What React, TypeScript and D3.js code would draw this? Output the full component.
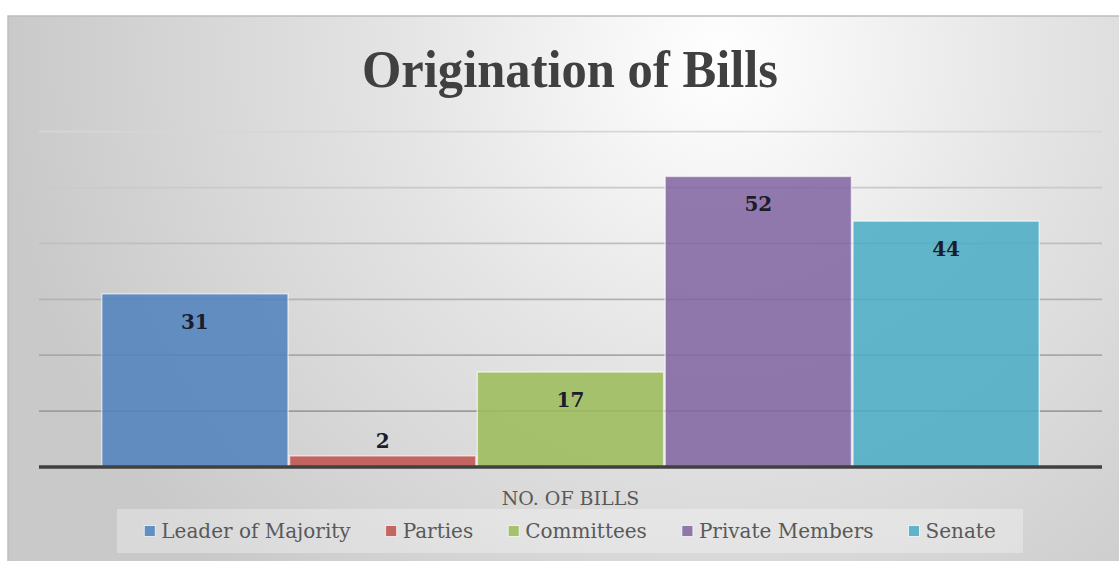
import React, { useEffect, useRef } from "react";
import * as d3 from "d3";

const categories: string[] = ["Leader of Majority", "Parties", "Committees", "Private Members", "Senate"];
const values: number[] = [31, 2, 17, 52, 44];
const colors: string[] = ["#4F81BD", "#C0504D", "#9BBB59", "#8064A2", "#4BACC6"];
const yTicks: number[] = [0, 10, 20, 30, 40, 50, 60];
const title = "Origination of Bills";
const axisTitle = "NO. OF BILLS";

const W = 1119;
const H = 561;

export default function App() {
  const ref = useRef<SVGSVGElement | null>(null);

  useEffect(() => {
    const svg = d3.select(ref.current);
    svg.selectAll("*").remove();

    const frame = { x: 8, y: 16, w: W - 8, h: H - 16 };
    const plot = { left: 39, right: 1102, top: 131.7, bottom: 467 };

    const defs = svg.append("defs");
    const rg = defs
      .append("radialGradient")
      .attr("id", "bg")
      .attr("gradientUnits", "userSpaceOnUse")
      .attr("cx", 720)
      .attr("cy", 60)
      .attr("r", 720)
      .attr("fx", 720)
      .attr("fy", 60);
    rg.append("stop").attr("offset", "0%").attr("stop-color", "#ffffff");
    rg.append("stop").attr("offset", "45%").attr("stop-color", "#e4e4e4");
    rg.append("stop").attr("offset", "100%").attr("stop-color", "#c9c9c9");

    svg
      .append("rect")
      .attr("x", frame.x)
      .attr("y", frame.y)
      .attr("width", frame.w + 4)
      .attr("height", frame.h + 4)
      .attr("fill", "url(#bg)")
      .attr("stroke", "#bdbdbd")
      .attr("stroke-width", 1.5);

    const x = d3
      .scaleBand<string>()
      .domain(categories)
      .range([plot.left, plot.right])
      .paddingInner(0)
      .paddingOuter(0.33);

    const y = d3.scaleLinear().domain([0, 60]).range([plot.bottom, plot.top]);

    const gridColor = d3.scaleLinear<string>().domain([10, 60]).range(["#9c9c9c", "#d6d6d6"]).interpolate(d3.interpolateRgb);

    // gridlines
    svg
      .append("g")
      .selectAll("line")
      .data(yTicks.filter((t) => t > 0))
      .join("line")
      .attr("x1", plot.left)
      .attr("x2", plot.right)
      .attr("y1", (d) => y(d))
      .attr("y2", (d) => y(d))
      .attr("stroke", (d) => gridColor(d))
      .attr("stroke-width", 1.75);

    // bars
    svg
      .append("g")
      .selectAll("rect")
      .data(values)
      .join("rect")
      .attr("x", (_, i) => x(categories[i])! + 0.75)
      .attr("y", (d) => y(d))
      .attr("width", x.bandwidth() - 1.5)
      .attr("height", (d) => y(0) - y(d))
      .attr("fill", (_, i) => colors[i])
      .attr("fill-opacity", 0.86)
      .attr("stroke", "#ffffff")
      .attr("stroke-opacity", 0.6)
      .attr("stroke-width", 1.5);

    // baseline
    svg
      .append("line")
      .attr("x1", plot.left)
      .attr("x2", plot.right)
      .attr("y1", y(0))
      .attr("y2", y(0))
      .attr("stroke", "#404040")
      .attr("stroke-width", 3.5);

    // data labels
    svg
      .append("g")
      .selectAll("text")
      .data(values)
      .join("text")
      .attr("x", (_, i) => x(categories[i])! + x.bandwidth() / 2)
      .attr("y", (d) => (y(0) - y(d) > 45 ? y(d) + 35 : y(d) - 8))
      .attr("text-anchor", "middle")
      .attr("font-family", "'DejaVu Serif', serif")
      .attr("font-weight", "bold")
      .attr("font-size", 20)
      .attr("fill", "#1c1c2a")
      .text((d) => String(d));

    // title
    svg
      .append("text")
      .attr("x", 570)
      .attr("y", 87)
      .attr("text-anchor", "middle")
      .attr("font-family", "'Liberation Serif', serif")
      .attr("font-weight", "bold")
      .attr("font-size", 53)
      .attr("fill", "#404040")
      .attr("textLength", 416)
      .attr("lengthAdjust", "spacingAndGlyphs")
      .text(title);

    // axis title
    svg
      .append("text")
      .attr("x", (plot.left + plot.right) / 2)
      .attr("y", 505)
      .attr("text-anchor", "middle")
      .attr("font-family", "'DejaVu Serif', serif")
      .attr("font-size", 19)
      .attr("fill", "#595959")
      .text(axisTitle);

    // legend
    const legendBox = { x: 117, y: 509, w: 906, h: 44 };
    svg
      .append("rect")
      .attr("x", legendBox.x)
      .attr("y", legendBox.y)
      .attr("width", legendBox.w)
      .attr("height", legendBox.h)
      .attr("fill", "#ffffff")
      .attr("fill-opacity", 0.3);

    const lg = svg.append("g");
    const sq = 11;
    const sqGap = 6;
    const itemGap = 35;
    const items = categories.map((c, i) => {
      const g = lg.append("g");
      g.append("rect")
        .attr("x", 0)
        .attr("y", -12.5)
        .attr("width", sq)
        .attr("height", sq)
        .attr("fill", colors[i])
        .attr("fill-opacity", 0.86)
        .attr("stroke", "#ffffff")
        .attr("stroke-opacity", 0.7)
        .attr("stroke-width", 1);
      const t = g
        .append("text")
        .attr("x", sq + sqGap)
        .attr("y", 0)
        .attr("font-family", "'DejaVu Serif', serif")
        .attr("font-size", 20)
        .attr("fill", "#595959")
        .text(c);
      const tw = (t.node() as SVGTextElement).getComputedTextLength();
      return { g, w: sq + sqGap + tw };
    });
    const total = items.reduce((s, it) => s + it.w, 0) + itemGap * (items.length - 1);
    let cx = legendBox.x + legendBox.w / 2 - total / 2;
    items.forEach((it) => {
      it.g.attr("transform", `translate(${cx},538)`);
      cx += it.w + itemGap;
    });
  }, []);

  return (
    <svg
      ref={ref}
      width={W}
      height={H}
      style={{ position: "absolute", left: 0, top: 0, background: "#ffffff" }}
    />
  );
}
